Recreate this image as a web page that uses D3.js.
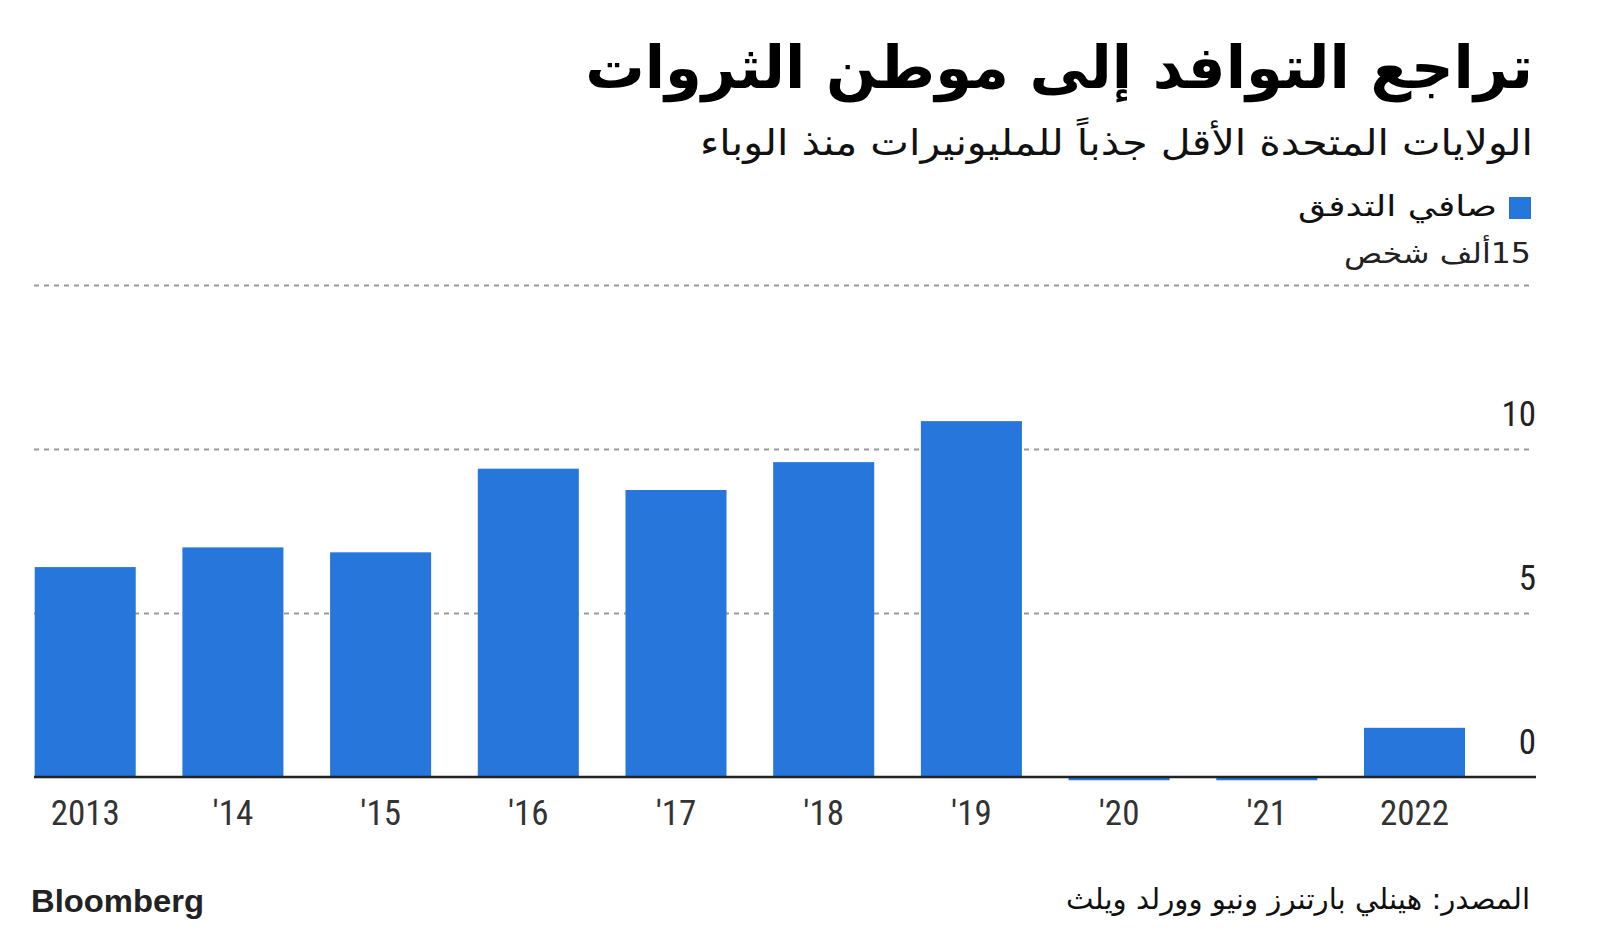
<!DOCTYPE html>
<html>
<head>
<meta charset="utf-8">
<script src="https://cdn.jsdelivr.net/npm/d3@7"></script>
<style>
  html, body { margin: 0; padding: 0; background: #fff; }
  svg { display: block; }
  .ar { font-family: "DejaVu Sans", "Noto Sans Arabic", sans-serif; }
  .num { font-family: "Liberation Sans Narrow", "Roboto Condensed", "Open Sans", sans-serif; }
</style>
</head>
<body>
<script>
// ---- Data ----
const categories = ["2013", "2014", "2015", "2016", "2017", "2018", "2019", "2020", "2021", "2022"];
const tickLabels = ["2013", "'14", "'15", "'16", "'17", "'18", "'19", "'20", "'21", "2022"];
const netInflow = [6.4, 7.0, 6.85, 9.4, 8.75, 9.6, 10.85, -0.1, -0.1, 1.5];
const yTicks = [0, 5, 10, 15];
const yTickLabels = ["0", "5", "10", "15"];

const titleText = "تراجع التوافد إلى موطن الثروات";
const subtitleText = "الولايات المتحدة الأقل جذباً للمليونيرات منذ الوباء";
const legendText = "صافي التدفق";
const unitText = "ألف شخص";
const sourceText = "المصدر: هينلي بارتنرز ونيو وورلد ويلث";

const W = 1600, H = 933;
const svg = d3.select("body").append("svg").attr("width", W).attr("height", H);
svg.append("rect").attr("width", W).attr("height", H).attr("fill", "#fff");

const x = d3.scaleBand().domain(categories).range([34.7, 1465]).paddingInner(0.316).paddingOuter(0);
const y = d3.scaleLinear().domain([0, 15]).range([777, 285]);
const gridLeft = 34, gridRight = 1533;
const barColor = "#2676dc";

// Gridlines via axis
const gridAxis = d3.axisLeft(y).tickValues(yTicks.filter(d => d !== 0)).tickSize(-(gridRight - gridLeft)).tickFormat("");
const gg = svg.append("g").attr("transform", `translate(${gridLeft},0)`).call(gridAxis);
gg.select(".domain").remove();
gg.selectAll(".tick line").attr("stroke", "#9a9a9a").attr("stroke-width", 2).attr("stroke-dasharray", "5,5");

// Bars
svg.append("g").selectAll("rect").data(categories).join("rect")
  .attr("x", d => x(d))
  .attr("width", x.bandwidth())
  .attr("y", (d, i) => y(Math.max(0, netInflow[i])))
  .attr("height", (d, i) => Math.abs(y(netInflow[i]) - y(0)))
  .attr("fill", barColor);

// Baseline
svg.append("line").attr("x1", gridLeft).attr("x2", 1536).attr("y1", y(0)).attr("y2", y(0))
  .attr("stroke", "#222").attr("stroke-width", 2.5);

// Y tick labels
svg.append("g").selectAll("text").data(yTicks.filter(d => d !== 15)).join("text")
  .attr("class", "num")
  .attr("x", 1536).attr("y", d => y(d) - 23)
  .attr("text-anchor", "end").attr("font-size", 35).attr("fill", "#222")
  .text(d => yTickLabels[yTicks.indexOf(d)]);

// Top tick with unit
svg.append("text").attr("class", "ar")
  .attr("x", 1531).attr("y", y(15) - 22)
  .attr("direction", "rtl").attr("text-anchor", "start")
  .attr("font-size", 28).attr("fill", "#222")
  .attr("textLength", 187).attr("lengthAdjust", "spacingAndGlyphs")
  .text(yTickLabels[3] + unitText);

// X axis labels
const xAxis = d3.axisBottom(x).tickSize(0).tickFormat((d, i) => tickLabels[i]);
const xg = svg.append("g").attr("transform", `translate(0,${y(0)})`).call(xAxis);
xg.select(".domain").remove();
xg.selectAll(".tick text").attr("class", "num").attr("font-size", 35).attr("fill", "#333")
  .attr("dy", 0).attr("y", 48).attr("font-family", null);

// Title (font size fitted to target width)
const title = svg.append("text").attr("class", "ar")
  .attr("x", 1533).attr("y", 88)
  .attr("direction", "rtl").attr("text-anchor", "start")
  .attr("font-size", 64).attr("font-weight", "bold").attr("fill", "#000")
  .text(titleText);
const tw = title.node().getComputedTextLength();
if (tw > 948) title.attr("font-size", 64 * 948 / tw);

// Subtitle
svg.append("text").attr("class", "ar")
  .attr("x", 1533).attr("y", 155)
  .attr("direction", "rtl").attr("text-anchor", "start")
  .attr("font-size", 36).attr("fill", "#111")
  .attr("textLength", 833).attr("lengthAdjust", "spacingAndGlyphs")
  .text(subtitleText);

// Legend
svg.append("rect").attr("x", 1509).attr("y", 197).attr("width", 22).attr("height", 22).attr("fill", barColor);
svg.append("text").attr("class", "ar")
  .attr("x", 1497).attr("y", 216)
  .attr("direction", "rtl").attr("text-anchor", "start")
  .attr("font-size", 29).attr("fill", "#111")
  .attr("textLength", 199).attr("lengthAdjust", "spacingAndGlyphs")
  .text(legendText);

// Footer
svg.append("text")
  .attr("x", 31).attr("y", 912)
  .attr("font-family", "Liberation Sans, Arial, sans-serif")
  .attr("font-size", 32).attr("font-weight", "bold").attr("fill", "#222")
  .attr("textLength", 173).attr("lengthAdjust", "spacingAndGlyphs")
  .text("Bloomberg");

svg.append("text").attr("class", "ar")
  .attr("x", 1530).attr("y", 909)
  .attr("direction", "rtl").attr("text-anchor", "start")
  .attr("font-size", 29).attr("fill", "#111")
  .attr("textLength", 464).attr("lengthAdjust", "spacingAndGlyphs")
  .text(sourceText);
</script>
</body>
</html>
